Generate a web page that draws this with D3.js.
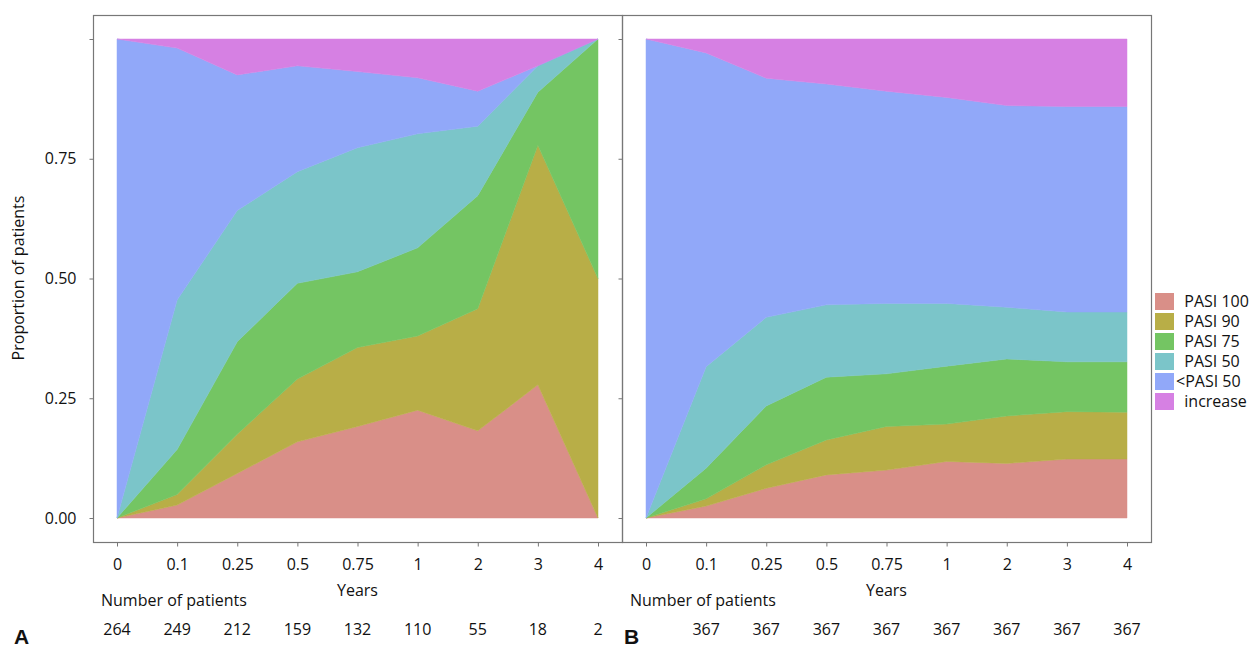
<!DOCTYPE html>
<html>
<head>
<meta charset="utf-8">
<script src="https://cdn.jsdelivr.net/npm/d3@7/dist/d3.min.js"></script>
<style>
  body { margin: 0; background: #fff; }
  svg text { font-family: "Open Sans", "Noto Sans", sans-serif; fill: #111; }
</style>
</head>
<body>
<div id="chart"></div>
<script>
// time points (years) and the number at risk below each panel
const years = ['0', '0.1', '0.25', '0.5', '0.75', '1', '2', '3', '4'];
const countsA = [264, 249, 212, 159, 132, 110, 55, 18, 2];
const countsB = [null, 367, 367, 367, 367, 367, 367, 367, 367];

const categories = ['PASI 100', 'PASI 90', 'PASI 75', 'PASI 50', '<PASI 50', 'increase'];
const legendLabels = ['  PASI 100', '  PASI 90', '  PASI 75', '  PASI 50', '<PASI 50', '  increase'];
const colors = ['#D98F88', '#B8AE47', '#74C563', '#7BC5C9', '#91A8F9', '#D680E3'];

// panel A proportions, one array per response category
const a_pasi100 = [0, 0.027, 0.093, 0.159, 0.191, 0.225, 0.182, 0.278, 0];
const a_pasi90 = [0, 0.022, 0.082, 0.131, 0.165, 0.155, 0.255, 0.500, 0.500];
const a_pasi75 = [0, 0.094, 0.193, 0.200, 0.158, 0.184, 0.236, 0.111, 0.500];
const a_pasi50 = [0, 0.312, 0.274, 0.233, 0.259, 0.238, 0.145, 0.055, 0];
const a_below50 = [1, 0.526, 0.283, 0.221, 0.159, 0.117, 0.073, 0, 0];
const a_increase = [0, 0.019, 0.075, 0.056, 0.068, 0.081, 0.109, 0.056, 0];

// panel B proportions
const b_pasi100 = [0, 0.025, 0.062, 0.090, 0.100, 0.118, 0.114, 0.123, 0.123];
const b_pasi90 = [0, 0.015, 0.049, 0.073, 0.091, 0.078, 0.099, 0.099, 0.098];
const b_pasi75 = [0, 0.064, 0.123, 0.131, 0.110, 0.121, 0.119, 0.104, 0.105];
const b_pasi50 = [0, 0.212, 0.185, 0.151, 0.147, 0.131, 0.108, 0.104, 0.104];
const b_below50 = [1, 0.655, 0.499, 0.461, 0.443, 0.430, 0.421, 0.429, 0.429];
const b_increase = [0, 0.029, 0.082, 0.094, 0.109, 0.122, 0.139, 0.141, 0.141];

const yTicks = [0, 0.25, 0.5, 0.75, 1];
const yTickLabels = ['0.00', '0.25', '0.50', '0.75', ''];

const width = 1259;
const height = 650;
const frameTop = 15;
const frameBottom = 542;
const inset = 24;
const fontSize = '16px';

const svg = d3.select('#chart').append('svg')
  .attr('width', width)
  .attr('height', height);

const y = d3.scaleLinear().domain([0, 1]).range([518, 39]);

function buildRows(series) {
  return years.map((yr, i) => {
    const row = { year: yr };
    categories.forEach((c, k) => { row[c] = series[k][i]; });
    return row;
  });
}

function drawPanel(p) {
  const x = d3.scalePoint()
    .domain(years)
    .range([p.left + inset, p.right - inset]);

  const stacked = d3.stack().keys(categories)(buildRows(p.series));
  const area = d3.area()
    .x(d => x(d.data.year))
    .y0(d => y(d[0]))
    .y1(d => y(d[1]));

  svg.append('g').selectAll('path')
    .data(stacked)
    .enter()
    .append('path')
    .attr('d', area)
    .attr('fill', (d, i) => colors[i])
    .attr('stroke', (d, i) => colors[i])
    .attr('stroke-width', 0.5);

  // frame
  svg.append('rect')
    .attr('x', p.left + 0.5)
    .attr('y', frameTop + 0.5)
    .attr('width', p.right - p.left)
    .attr('height', frameBottom - frameTop)
    .attr('fill', 'none')
    .attr('stroke', '#777')
    .attr('stroke-width', 1.2);

  // y axis
  const yAxis = svg.append('g')
    .attr('transform', `translate(${p.left + 0.5},0)`)
    .call(d3.axisLeft(y).tickValues(yTicks).tickSize(4).tickPadding(13)
      .tickFormat((d, i) => p.yLabels ? yTickLabels[i] : ''));
  yAxis.select('.domain').remove();
  yAxis.selectAll('line').attr('stroke', '#777');
  yAxis.selectAll('text').style('font-size', fontSize).attr('fill', '#111');

  // x axis
  const xAxis = svg.append('g')
    .attr('transform', `translate(0,${frameBottom + 0.5})`)
    .call(d3.axisBottom(x).tickSize(4).tickPadding(12));
  xAxis.select('.domain').remove();
  xAxis.selectAll('line').attr('stroke', '#777');
  xAxis.selectAll('text').style('font-size', fontSize).attr('fill', '#111');

  const mid = (p.left + p.right) / 2;
  svg.append('text')
    .attr('x', mid)
    .attr('y', 596)
    .attr('text-anchor', 'middle')
    .style('font-size', fontSize)
    .text('Years');

  svg.append('text')
    .attr('x', p.left + 8)
    .attr('y', 606)
    .style('font-size', fontSize)
    .text('Number of patients');

  svg.append('g').selectAll('text')
    .data(p.counts.map((c, i) => ({ c, yr: years[i] })).filter(d => d.c !== null))
    .enter()
    .append('text')
    .attr('x', d => x(d.yr))
    .attr('y', 635)
    .attr('text-anchor', 'middle')
    .style('font-size', fontSize)
    .text(d => d.c);

  svg.append('text')
    .attr('x', p.tagX)
    .attr('y', 644)
    .style('font-size', '21px')
    .style('font-weight', 'bold')
    .style('font-family', '"Liberation Sans", Arial, sans-serif')
    .text(p.tag);
}

drawPanel({
  left: 93, right: 622, tag: 'A', tagX: 14, yLabels: true, counts: countsA,
  series: [a_pasi100, a_pasi90, a_pasi75, a_pasi50, a_below50, a_increase]
});
drawPanel({
  left: 622, right: 1151, tag: 'B', tagX: 624, yLabels: false, counts: countsB,
  series: [b_pasi100, b_pasi90, b_pasi75, b_pasi50, b_below50, b_increase]
});

// y axis title
svg.append('text')
  .attr('transform', 'translate(24,278) rotate(-90)')
  .attr('text-anchor', 'middle')
  .style('font-size', fontSize)
  .text('Proportion of patients');

// legend
const legend = svg.append('g').attr('transform', 'translate(1155,293)');
const rows = legend.selectAll('g')
  .data(legendLabels)
  .enter()
  .append('g')
  .attr('transform', (d, i) => `translate(0,${i * 20})`);
rows.append('rect')
  .attr('width', 19)
  .attr('height', 17)
  .attr('fill', (d, i) => colors[i]);
rows.append('text')
  .attr('x', 21)
  .attr('y', 14)
  .attr('xml:space', 'preserve')
  .style('white-space', 'pre')
  .style('font-size', fontSize)
  .text(d => d);
</script>
</body>
</html>
